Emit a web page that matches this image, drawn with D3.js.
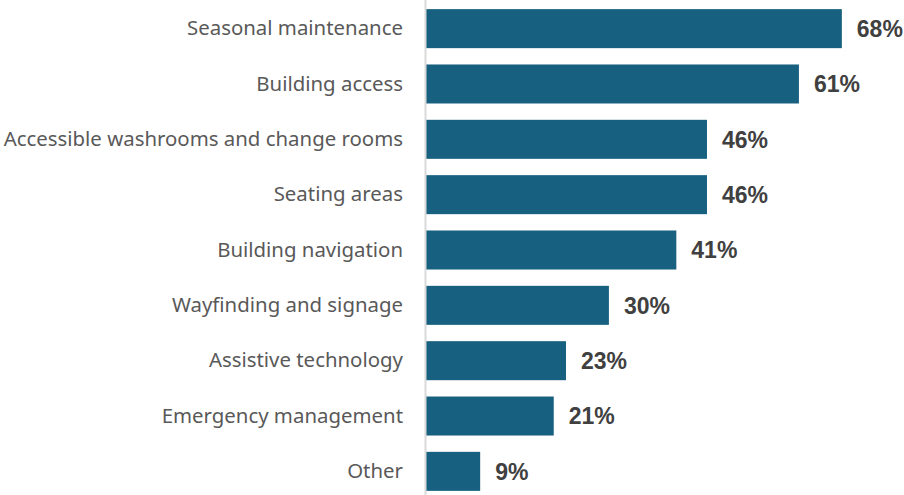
<!DOCTYPE html>
<html>
<head>
<meta charset="utf-8">
<script src="https://cdn.jsdelivr.net/npm/d3@7"></script>
<style>
  html, body { margin: 0; padding: 0; background: #ffffff; }
  svg { display: block; }
</style>
</head>
<body>
<svg id="chart" width="904" height="495"></svg>
<script>
const categories = [
  "Seasonal maintenance",
  "Building access",
  "Accessible washrooms and change rooms",
  "Seating areas",
  "Building navigation",
  "Wayfinding and signage",
  "Assistive technology",
  "Emergency management",
  "Other"
];
const values = [68, 61, 46, 46, 41, 30, 23, 21, 9];

const data = categories.map((c, i) => ({ category: c, value: values[i] }));

const svg = d3.select("#chart");
const axisX = 425;

const x = d3.scaleLinear()
  .domain([0, 80])
  .range([axisX, axisX + 80 * 6.13]);

const y = d3.scaleBand()
  .domain(categories)
  .range([1, 499])
  .paddingInner(0.295)
  .paddingOuter(0.147);

// bars
svg.append("g")
  .selectAll("rect")
  .data(data)
  .join("rect")
  .attr("x", x(0))
  .attr("y", d => y(d.category))
  .attr("width", d => x(d.value) - x(0))
  .attr("height", y.bandwidth())
  .attr("fill", "#17607f");

// vertical category axis
const yAxis = d3.axisLeft(y).tickSize(0).tickPadding(22);
const gy = svg.append("g")
  .attr("transform", `translate(${axisX},0)`)
  .call(yAxis);
gy.select(".domain")
  .attr("d", "M0.5,0V495")
  .attr("stroke", "#d9d9d9")
  .attr("stroke-width", 2);
gy.selectAll("text")
  .attr("font-family", "'Noto Sans', sans-serif")
  .attr("font-size", 20.4)
  .style("font-variant-ligatures", "none")
  .attr("fill", "#595959");

// value labels
svg.append("g")
  .selectAll("text")
  .data(data)
  .join("text")
  .attr("x", d => x(d.value) + 15)
  .attr("y", d => y(d.category) + y.bandwidth() / 2)
  .attr("dy", "0.36em")
  .attr("font-family", "'Liberation Sans', Arial, sans-serif")
  .attr("font-weight", "bold")
  .attr("font-size", 23)
  .attr("fill", "#404040")
  .text(d => d.value + "%");
</script>
</body>
</html>
